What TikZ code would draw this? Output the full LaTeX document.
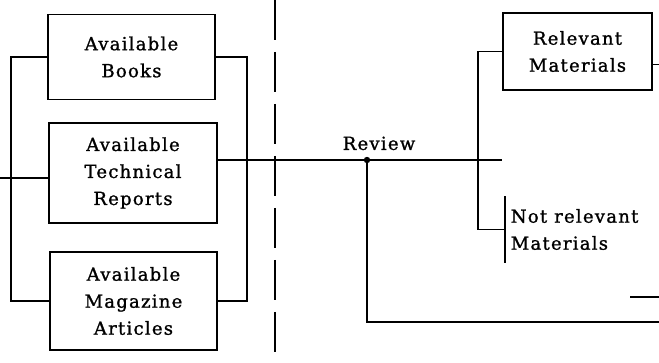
\documentclass[tikz,border=0pt]{standalone}
\usepackage{fontspec}
\setmainfont{DejaVu Serif}[LetterSpace=7, FakeBold=1.2]

\begin{document}
\begin{tikzpicture}[x=1pt, y=-1pt,
					line width=1.7pt,
					box/.style={draw, line width=1.7pt, align=center, inner sep=0pt, font=\fontsize{18}{27}\selectfont},
					note/.style={align=left, inner sep=0pt, font=\fontsize{18}{27}\selectfont},
					divider/.style={line width=1.8pt, dash pattern=on 40pt off 12pt}
				]
				% Marco de la figura
				\useasboundingbox (0,0) rectangle (659,363);

				% --- Fuentes disponibles ---
				\node[box, minimum width=167pt, minimum height=85pt] (books) at (131.5,57) {Available\\Books};
				\node[box, minimum width=168pt, minimum height=100pt] (tech) at (133,173) {Available\\Technical\\Reports};
				\node[box, minimum width=167pt, minimum height=98pt] (mag) at (133.5,301) {Available\\Magazine\\Articles};

				% --- Barra izquierda ---
				\draw (books.west) -- ++(-36,0) |- (mag.west);
				\coordinate (in) at (0,178);
				\draw (in) -- (in -| tech.west);

				% --- Barra derecha ---
				\draw (books.east) -- ++(31,0) |- (mag.east);

				% --- Linea divisoria ---
				\coordinate (divtop) at (275,0);
				\coordinate (divbot) at (275,352);
				\draw[divider] (divtop) -- (divbot);

				% --- Resultado ---
				\node[box, minimum width=149pt, minimum height=77pt] (rel) at (577.5,51.5) {Relevant\\Materials};
				\node[note, anchor=west, minimum height=65pt, inner xsep=5pt] (notrel) at (505,229.5) {Not relevant\\Materials};
				\draw (notrel.north west) -- (notrel.south west);

				% --- Revision ---
				\coordinate (rev) at (367,160);
				\draw (tech.east |- rev) -- (rev) -- (rev -| rel.west);
				\fill (rev) circle (3.2pt);
				\node[note, anchor=south] (revlbl) at (379,151) {Review};
				\coordinate (out) at (659,322);
				\draw (rev) |- (out);

				% --- Clasificacion ---
				\draw (rel.west) -- ++(-24,0) |- (notrel.west);
				\draw ([yshift=-13pt]rel.east) -- ++(7,0);
				\coordinate (stub) at (630,297);
				\draw (stub) -- ++(29,0);

			\end{tikzpicture}
\end{document}
